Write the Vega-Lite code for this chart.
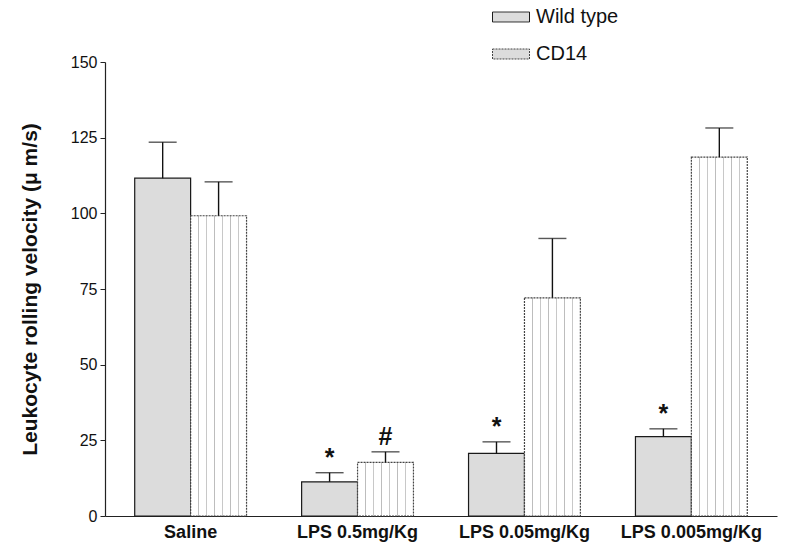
{
  "$schema": "https://vega.github.io/schema/vega-lite/v6.json",
  "width": 672,
  "height": 454,
  "autosize": {"type": "none"},
  "padding": {"left": 105, "top": 62, "right": 17, "bottom": 33},
  "background": "white",
  "config": {
    "font": "Liberation Sans",
    "view": {"stroke": null}
  },
  "data": {
    "values": [
      {"treatment": "Saline", "group": "Wild type", "mean": 111.6, "upper": 123.5, "sig": ""},
      {"treatment": "Saline", "group": "CD14", "mean": 99.2, "upper": 110.4, "sig": ""},
      {"treatment": "LPS 0.5mg/Kg", "group": "Wild type", "mean": 11.3, "upper": 14.3, "sig": "*"},
      {"treatment": "LPS 0.5mg/Kg", "group": "CD14", "mean": 17.7, "upper": 21.2, "sig": "#"},
      {"treatment": "LPS 0.05mg/Kg", "group": "Wild type", "mean": 20.7, "upper": 24.5, "sig": "*"},
      {"treatment": "LPS 0.05mg/Kg", "group": "CD14", "mean": 72.1, "upper": 91.7, "sig": ""},
      {"treatment": "LPS 0.005mg/Kg", "group": "Wild type", "mean": 26.2, "upper": 28.8, "sig": "*"},
      {"treatment": "LPS 0.005mg/Kg", "group": "CD14", "mean": 118.6, "upper": 128.2, "sig": ""}
    ]
  },
  "encoding": {
    "x": {
      "field": "treatment",
      "type": "nominal",
      "sort": ["Saline", "LPS 0.5mg/Kg", "LPS 0.05mg/Kg", "LPS 0.005mg/Kg"],
      "scale": {"paddingInner": 0.33, "paddingOuter": 0.178},
      "axis": {
        "title": null,
        "labelAngle": 0,
        "ticks": false,
        "labelFontSize": 18,
        "labelFontWeight": "bold",
        "labelColor": "#111",
        "labelPadding": 7,
        "domainColor": "#222",
        "domainWidth": 1.2
      }
    },
    "xOffset": {
      "field": "group",
      "type": "nominal",
      "sort": ["Wild type", "CD14"],
      "scale": {"paddingInner": 0, "paddingOuter": 0}
    }
  },
  "layer": [
    {
      "mark": {"type": "bar", "strokeWidth": 1.2},
      "encoding": {
        "y": {
          "field": "mean",
          "type": "quantitative",
          "scale": {"domain": [0, 150], "nice": false, "zero": true},
          "axis": {
            "title": "Leukocyte rolling velocity (μ m/s)",
            "titleFontSize": 21,
            "titleFontWeight": "bold",
            "titleColor": "#111",
            "titlePadding": 30,
            "values": [0, 25, 50, 75, 100, 125, 150],
            "grid": false,
            "tickSize": 5,
            "tickColor": "#222",
            "domainColor": "#222",
            "domainWidth": 1.2,
            "labelFontSize": 16,
            "labelColor": "#111",
            "labelPadding": 3
          }
        },
        "fill": {
          "condition": {
            "test": "datum.group === 'CD14'",
            "value": {
              "gradient": "linear",
              "x1": 0, "y1": 0, "x2": 1, "y2": 0,
              "stops": [
                {"offset": 0, "color": "#ffffff"},
                {"offset": 0.131, "color": "#ffffff"},
                {"offset": 0.131, "color": "#bdbdbd"},
                {"offset": 0.155, "color": "#bdbdbd"},
                {"offset": 0.155, "color": "#ffffff"},
                {"offset": 0.274, "color": "#ffffff"},
                {"offset": 0.274, "color": "#c8c8c8"},
                {"offset": 0.298, "color": "#c8c8c8"},
                {"offset": 0.298, "color": "#ffffff"},
                {"offset": 0.417, "color": "#ffffff"},
                {"offset": 0.417, "color": "#bdbdbd"},
                {"offset": 0.441, "color": "#bdbdbd"},
                {"offset": 0.441, "color": "#ffffff"},
                {"offset": 0.559, "color": "#ffffff"},
                {"offset": 0.559, "color": "#c8c8c8"},
                {"offset": 0.583, "color": "#c8c8c8"},
                {"offset": 0.583, "color": "#ffffff"},
                {"offset": 0.702, "color": "#ffffff"},
                {"offset": 0.702, "color": "#bdbdbd"},
                {"offset": 0.726, "color": "#bdbdbd"},
                {"offset": 0.726, "color": "#ffffff"},
                {"offset": 0.845, "color": "#ffffff"},
                {"offset": 0.845, "color": "#c8c8c8"},
                {"offset": 0.869, "color": "#c8c8c8"},
                {"offset": 0.869, "color": "#ffffff"},
                {"offset": 1, "color": "#ffffff"}
              ]
            }
          },
          "value": "#dcdcdc"
        },
        "stroke": {
          "field": "group",
          "type": "nominal",
          "sort": ["Wild type", "CD14"],
          "scale": {"domain": ["Wild type", "CD14"], "range": ["#1a1a1a", "#444444"]},
          "legend": {
            "title": null,
            "orient": "none",
            "legendX": 387,
            "legendY": -64,
            "symbolType": "M-1,-0.27H1V0.27H-1Z",
            "symbolSize": 1369,
            "symbolFillColor": "white",
            "symbolStrokeWidth": 1,
            "labelFontSize": 20,
            "labelColor": "#111",
            "labelOffset": 6,
            "rowPadding": 8
          }
        },
        "strokeDash": {
          "field": "group",
          "type": "nominal",
          "sort": ["Wild type", "CD14"],
          "scale": {"domain": ["Wild type", "CD14"], "range": [[1, 0], [2, 1]]},
          "legend": null
        }
      }
    },
    {
      "mark": {"type": "rule", "color": "#111", "strokeWidth": 1.4},
      "encoding": {
        "y": {"field": "mean", "type": "quantitative"},
        "y2": {"field": "upper"}
      }
    },
    {
      "mark": {"type": "tick", "color": "#111", "thickness": 1.4, "size": 28, "orient": "horizontal"},
      "encoding": {
        "y": {"field": "upper", "type": "quantitative"}
      }
    },
    {
      "mark": {"type": "text", "fontSize": 25, "fontWeight": "bold", "color": "#111", "baseline": "bottom", "dy": -2},
      "encoding": {
        "y": {"field": "upper", "type": "quantitative"},
        "text": {"field": "sig"}
      }
    }
  ]
}
